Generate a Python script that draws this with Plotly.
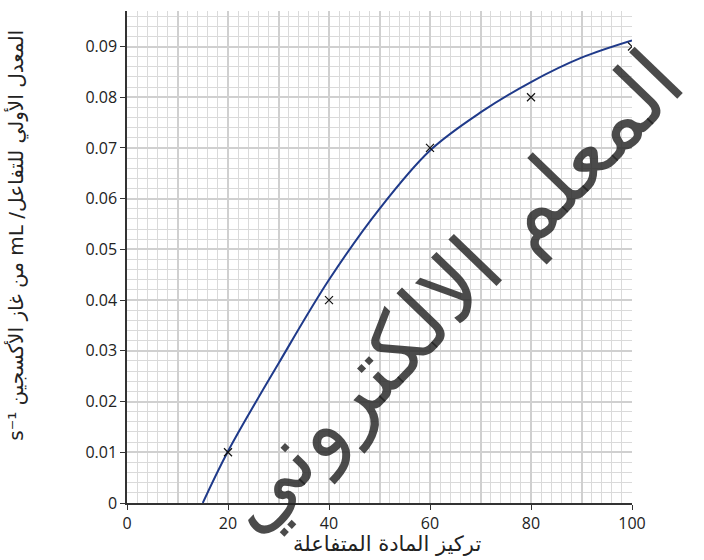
import plotly.graph_objects as go

# Measured points: substrate concentration vs initial rate
conc = [20, 40, 60, 80, 100]
rate = [0.01, 0.04, 0.07, 0.08, 0.09]

# Best-fit curve drawn through the data
curve_conc = [15, 20, 30, 40, 50, 60, 70, 80, 90, 100]
curve_rate = [0.0, 0.0102, 0.0275, 0.044, 0.058, 0.0695, 0.077, 0.083, 0.0878, 0.0912]

x_tick_vals = [0, 20, 40, 60, 80, 100]
x_tick_text = ["0", "20", "40", "60", "80", "100"]
y_tick_vals = [0, 0.01, 0.02, 0.03, 0.04, 0.05, 0.06, 0.07, 0.08, 0.09]
y_tick_text = ["0", "0.01", "0.02", "0.03", "0.04", "0.05", "0.06", "0.07", "0.08", "0.09"]

RLE, PDF = "\u202B", "\u202C"
x_title = "تركيز المادة المتفاعلة"
y_title = RLE + "المعدل الأولي للتفاعل/ mL من غاز الأكسجين s⁻¹" + PDF
watermark = "المعلم الالكتروني"

FONT = "Open Sans, DejaVu Sans, sans-serif"
MAJOR = "#d0d0d0"
MINOR = "#dadada"
AXIS = "#333333"

fig = go.Figure()
fig.add_trace(go.Scatter(
    x=curve_conc, y=curve_rate, mode="lines",
    line=dict(color="#1f3a8a", width=2, shape="spline", smoothing=1.0),
    hoverinfo="skip", showlegend=False,
))
fig.add_trace(go.Scatter(
    x=conc, y=rate, mode="markers",
    marker=dict(symbol="x-thin", size=8, line=dict(color="#111111", width=1.2)),
    showlegend=False,
))
# Empty trace on the overlay axis that carries the 10-unit grid
fig.add_trace(go.Scatter(x=[None], y=[None], xaxis="x2", showlegend=False, hoverinfo="skip"))

fig.update_layout(
    width=704, height=560,
    margin=dict(l=127, r=72, t=11, b=57),
    paper_bgcolor="white", plot_bgcolor="white",
    font=dict(family=FONT, size=15, color="#222222"),
    xaxis=dict(
        range=[0, 100], tickvals=x_tick_vals, ticktext=x_tick_text,
        ticks="outside", ticklen=5, tickcolor=AXIS, tickwidth=1.2,
        showgrid=False,
        showline=True, linecolor=AXIS, linewidth=1.5,
        zeroline=False, tickfont=dict(size=16), fixedrange=True,
    ),
    xaxis2=dict(
        range=[0, 100], overlaying="x", anchor="y", side="bottom",
        dtick=10, ticks="", showticklabels=False,
        showgrid=True, gridcolor=MAJOR, gridwidth=2,
        minor=dict(dtick=2, showgrid=True, gridcolor=MINOR, gridwidth=1),
        zeroline=False, showline=False, fixedrange=True,
    ),
    yaxis=dict(
        range=[0, 0.097], tickvals=y_tick_vals, ticktext=y_tick_text,
        ticks="outside", ticklen=5, tickcolor=AXIS, tickwidth=1.2,
        showgrid=True, gridcolor=MAJOR, gridwidth=2,
        minor=dict(dtick=0.002, showgrid=True, gridcolor=MINOR, gridwidth=1),
        showline=True, linecolor=AXIS, linewidth=1.5,
        zeroline=False, tickfont=dict(size=16), fixedrange=True,
    ),
)

fig.add_annotation(
    text=x_title, xref="paper", yref="paper", x=0.515, y=-0.083,
    xanchor="center", yanchor="middle", showarrow=False,
    font=dict(family="DejaVu Sans", size=21, color="#222222"),
)
fig.add_annotation(
    text=y_title, xref="paper", yref="paper", x=-0.218, y=0.545,
    xanchor="center", yanchor="middle", textangle=-90, showarrow=False,
    font=dict(family="DejaVu Sans", size=20, color="#222222"),
)
fig.add_annotation(
    text=watermark, xref="paper", yref="paper", x=0.64, y=0.43,
    xanchor="center", yanchor="middle", textangle=-46, showarrow=False,
    font=dict(family="DejaVu Sans", size=88, color="rgba(35,35,35,0.82)"),
)

fig.write_html("out.html")
